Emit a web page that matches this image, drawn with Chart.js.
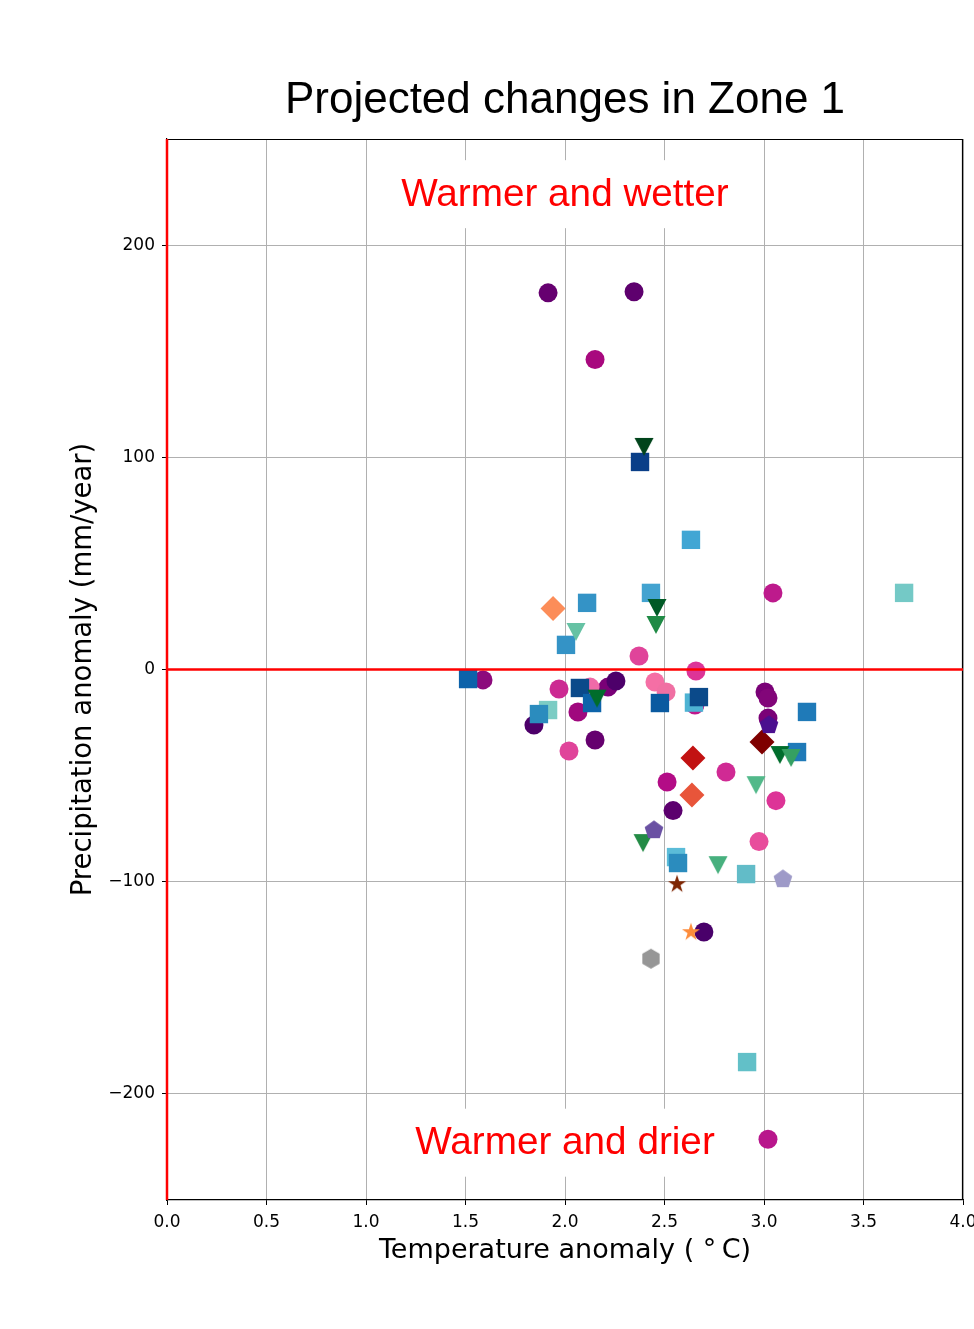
<!DOCTYPE html>
<html>
<head>
<meta charset="utf-8">
<title>Projected changes in Zone 1</title>
<script src="https://cdn.jsdelivr.net/npm/chart.js@4/dist/chart.umd.min.js"></script>
<style>
  html, body { margin: 0; padding: 0; background: #fff; }
  #chart { display: block; }
</style>
</head>
<body>
<canvas id="chart" width="974" height="1329"></canvas>
<script>
'use strict';

// temperature anomaly (°C) / precipitation anomaly (mm/year), one array pair per marker type

const circleX = [1.915, 2.347, 2.151, 3.045, 2.372, 2.658, 1.588, 1.970, 2.216, 2.256, 2.126, 2.065, 1.844, 2.151,
  2.020, 2.452, 2.508, 2.653, 3.005, 3.020, 3.020, 2.809, 2.513, 3.060, 2.543, 2.975, 2.698, 3.020];
const circleY = [177.5, 178.0, 146.1, 36.1, 6.4, -0.7, -4.9, -9.2, -8.3, -5.4, -8.3, -20.0, -26.2, -33.2,
  -38.4, -5.9, -10.6, -16.7, -10.6, -13.4, -22.9, -48.3, -53.0, -61.8, -66.5, -81.1, -123.7, -221.4];

const squareX = [2.377, 2.633, 2.111, 2.432, 2.005, 3.704, 1.513, 2.075, 2.136, 1.915, 1.869, 2.477, 2.648, 2.673,
  3.216, 3.166, 2.558, 2.568, 2.910, 2.915];
const squareY = [97.8, 61.1, 31.4, 36.1, 11.6, 36.1, -4.5, -8.7, -15.8, -19.1, -21.0, -15.8, -15.6, -13.0,
  -20.0, -38.9, -88.4, -91.2, -96.4, -185.0];

const triangleX = [2.397, 2.462, 2.457, 2.055, 2.161, 3.080, 3.136, 2.960, 2.392, 2.769];
const triangleY = [104.9, 29.0, 21.0, 17.7, -13.7, -40.3, -41.7, -54.5, -81.8, -92.2];

const diamondX = [1.940, 2.643, 2.638, 2.990];
const diamondY = [28.8, -41.7, -59.2, -34.2];

const pentagonX = [2.447, 3.095, 3.025];
const pentagonY = [-75.7, -98.8, -26.2];

const hexagonX = [2.432];
const hexagonY = [-136.3];

const starX = [2.563, 2.633];
const starY = [-101.2, -123.8];

const xTicks = [0, 0.5, 1, 1.5, 2, 2.5, 3, 3.5, 4];
const yTicks = [-200, -100, 0, 100, 200];

const noteLabels = ['Warmer and wetter', 'Warmer and drier'];
const noteX = [2.0, 2.0];
const noteY = [224, -223];

// marker colours
const circleColors = ['#660070', '#5e006e', '#a8087e', '#bd1a8c', '#e0449a', '#dd3497', '#8c0a7c', '#cc2a92',
  '#7a0177', '#4d006a', '#f06aa8', '#a0087e', '#4d006a', '#66006f', '#e0449a', '#f56fa5', '#f070a3', '#c0188c',
  '#7a0177', '#820679', '#7a0177', '#d02a94', '#b30c86', '#dd3497', '#5c006e', '#e84d9c', '#49006a', '#b8168c'];
const squareColors = ['#0a3f88', '#41a6d4', '#3493c6', '#43a3d0', '#3493c6', '#74c9c6', '#0c62aa', '#0b4a8a',
  '#0d64aa', '#7bccc4', '#2b8cbe', '#0a5aa0', '#4eb3d3', '#0b4a8a', '#1f7ab8', '#1f7ab8', '#5bbcd8', '#2b8cbe',
  '#62bcc8', '#62c0c8'];
const triangleColors = ['#00441b', '#005a26', '#1f8a45', '#66c2a4', '#006d2c', '#006d2c', '#35a062', '#52b98a',
  '#238b45', '#47b07e'];
const diamondColors = ['#fc8d59', '#c21212', '#e8553a', '#7f0000'];
const pentagonColors = ['#6a51a3', '#9e9ac8', '#4b0f8f'];
const hexagonColors = ['#969696'];
const starColors = ['#7f2704', '#fd8d3c'];

function toPoints(xs, ys) {
  return xs.map((v, i) => ({ x: v, y: ys[i] }));
}

// little canvases for the marker shapes chart.js doesn't have
function shapeMarker(shape, color) {
  const s = 24;
  const c = document.createElement('canvas');
  c.width = s;
  c.height = s;
  const g = c.getContext('2d');
  g.translate(s / 2, s / 2);
  g.fillStyle = color;
  g.beginPath();
  if (shape === 'triangleDown') {
    g.moveTo(-9.5, -9);
    g.lineTo(9.5, -9);
    g.lineTo(0, 9);
  } else if (shape === 'pentagon' || shape === 'hexagon') {
    const n = shape === 'pentagon' ? 5 : 6;
    const r = shape === 'pentagon' ? 9.8 : 10;
    for (let i = 0; i < n; i++) {
      const a = -Math.PI / 2 + i * 2 * Math.PI / n;
      g.lineTo(r * Math.cos(a), r * Math.sin(a));
    }
  } else if (shape === 'star') {
    for (let i = 0; i < 10; i++) {
      const r = i % 2 ? 3.6 : 9.5;
      const a = -Math.PI / 2 + i * Math.PI / 5;
      g.lineTo(r * Math.cos(a), r * Math.sin(a));
    }
  }
  g.closePath();
  g.fill();
  return c;
}

const customShapes = ['triangleDown', 'pentagon', 'hexagon', 'star'];

function markerSet(label, xs, ys, colors, style, radius) {
  return {
    label: label,
    data: toPoints(xs, ys),
    pointStyle: customShapes.includes(style) ? colors.map(c => shapeMarker(style, c)) : style,
    pointRadius: radius,
    pointHoverRadius: radius,
    pointBackgroundColor: colors,
    pointBorderWidth: 0,
    pointBorderColor: colors,
    clip: false
  };
}

function redLine(xs, ys) {
  return {
    label: 'zero',
    data: toPoints(xs, ys),
    showLine: true,
    borderColor: '#ff0000',
    borderWidth: 2.5,
    pointRadius: 0,
    clip: false
  };
}

// title, the two red notes and the top/right frame
const decorations = {
  id: 'decorations',
  beforeDatasetsDraw(chart) {
    const { ctx, chartArea: a, scales } = chart;
    ctx.save();
    ctx.strokeStyle = '#000';
    ctx.lineWidth = 1.2;
    ctx.beginPath();
    ctx.moveTo(a.left, a.top + 0.5);
    ctx.lineTo(a.right, a.top + 0.5);
    ctx.moveTo(a.right - 0.5, a.top);
    ctx.lineTo(a.right - 0.5, a.bottom);
    ctx.stroke();

    ctx.font = '38.7px "Liberation Sans", Arial, sans-serif';
    ctx.textAlign = 'center';
    ctx.textBaseline = 'middle';
    noteLabels.forEach((t, i) => {
      const px = scales.x.getPixelForValue(noteX[i]);
      const py = scales.y.getPixelForValue(noteY[i]);
      const w = ctx.measureText(t).width;
      ctx.fillStyle = '#fff';
      ctx.fillRect(px - w / 2 - 6, py - 34, w + 12, 68);
      ctx.fillStyle = '#ff0000';
      ctx.fillText(t, px, py + 1);
    });

    ctx.font = '44px "Liberation Sans", Arial, sans-serif';
    ctx.textBaseline = 'alphabetic';
    ctx.fillStyle = '#000';
    ctx.fillText('Projected changes in Zone 1', (a.left + a.right) / 2, 113);
    ctx.restore();
  }
};

const tickFont = { family: '"DejaVu Sans", sans-serif', size: 17 };
const labelFont = { family: '"DejaVu Sans", sans-serif', size: 27 };

new Chart(document.getElementById('chart'), {
  type: 'scatter',
  data: {
    datasets: [
      redLine([0, 0], [-250, 250]),
      redLine([0, 4], [0, 0]),
      markerSet('star', starX, starY, starColors, 'star', 9),
      markerSet('hexagon', hexagonX, hexagonY, hexagonColors, 'hexagon', 9),
      markerSet('pentagon', pentagonX, pentagonY, pentagonColors, 'pentagon', 9),
      markerSet('diamond', diamondX, diamondY, diamondColors, 'rectRot', 12.5),
      markerSet('triangle', triangleX, triangleY, triangleColors, 'triangleDown', 9),
      markerSet('square', squareX, squareY, squareColors, 'rect', 13),
      markerSet('circle', circleX, circleY, circleColors, 'circle', 9.5)
    ]
  },
  options: {
    responsive: false,
    animation: false,
    devicePixelRatio: 1,
    layout: { autoPadding: false, padding: { top: 139, right: 11, left: 0, bottom: 0 } },
    plugins: {
      legend: { display: false },
      tooltip: { enabled: false }
    },
    scales: {
      x: {
        type: 'linear',
        min: 0,
        max: 4,
        afterBuildTicks: scale => { scale.ticks = xTicks.map(v => ({ value: v })); },
        afterFit: scale => {
          scale.height = 129;
          scale.paddingLeft = 0;
          scale.paddingRight = 0;
        },
        ticks: {
          autoSkip: false,
          maxRotation: 0,
          padding: 7,
          color: '#000',
          font: tickFont,
          callback: v => Number(v).toFixed(1)
        },
        grid: { color: '#b0b0b0', lineWidth: 1, tickColor: '#000', tickLength: 5 },
        border: { display: true, color: '#000', width: 1.2 },
        title: {
          display: true,
          text: 'Temperature anomaly ( °\u2009C)',
          color: '#000',
          font: labelFont,
          padding: { top: 0, bottom: 62 }
        }
      },
      y: {
        type: 'linear',
        min: -250,
        max: 250,
        afterBuildTicks: scale => { scale.ticks = yTicks.map(v => ({ value: v })); },
        afterFit: scale => {
          scale.width = 167;
          scale.paddingTop = 0;
          scale.paddingBottom = 0;
        },
        ticks: {
          padding: 7,
          color: '#000',
          font: tickFont,
          callback: v => (v < 0 ? '\u2212' + Math.abs(v) : String(v))
        },
        grid: { color: '#b0b0b0', lineWidth: 1, tickColor: '#000', tickLength: 5 },
        border: { display: true, color: '#000', width: 1.2 },
        title: {
          display: true,
          text: 'Precipitation anomaly (mm/year)',
          color: '#000',
          font: { family: '"DejaVu Sans", sans-serif', size: 27.5 },
          padding: { top: 67, bottom: 0 }
        }
      }
    }
  },
  plugins: [decorations]
});
</script>
</body>
</html>
